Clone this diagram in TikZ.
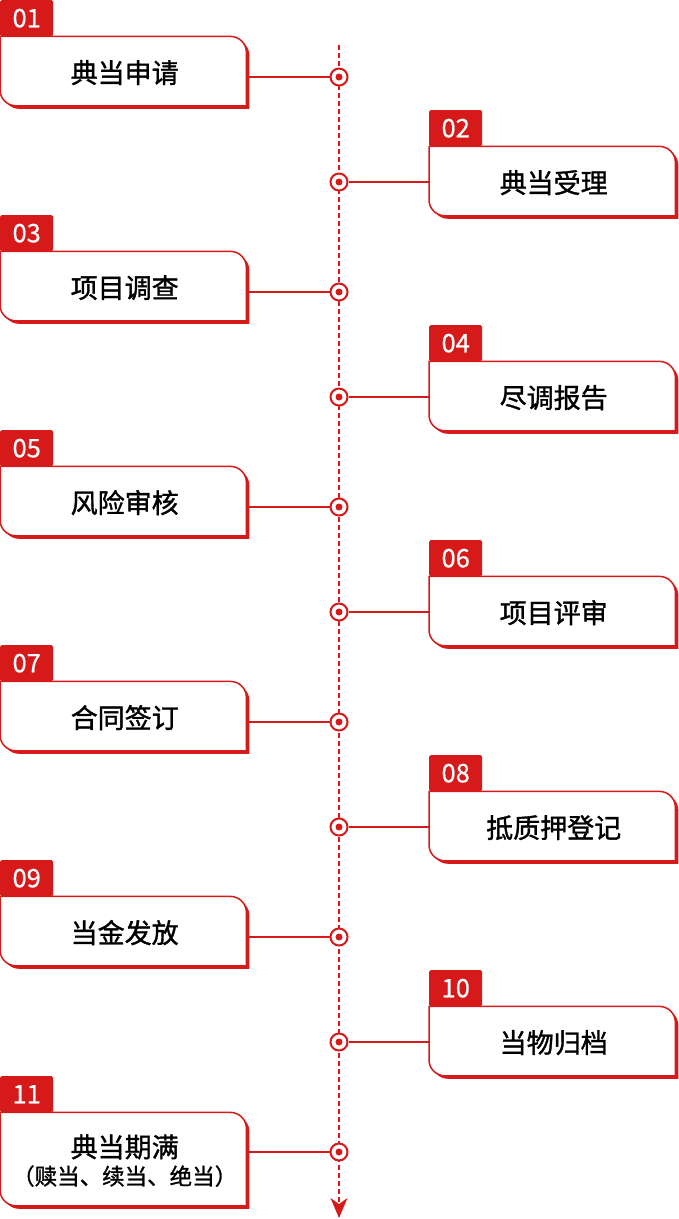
\documentclass[tikz,border=0pt]{standalone}
\usepackage{fontspec}
\newfontfamily\cjk{Noto Sans CJK SC}[FakeBold=0.6]
\newfontfamily\cjkheavy{Noto Sans CJK SC}[FakeBold=1.2]
\usetikzlibrary{positioning,arrows.meta}
\definecolor{mainred}{RGB}{214,26,26}
\pgfdeclarelayer{background}
\pgfsetlayers{background,main}

\begin{document}
\begin{tikzpicture}[x=1pt, y=1pt,
		tag/.style={rectangle, anchor=north west, fill=mainred, text=white, rounded corners=1.5pt, minimum width=53pt, minimum height=36pt, inner sep=0pt, font=\cjk\fontsize{25.5}{27}\selectfont},
		card/.style={rectangle, anchor=north west, minimum width=249pt, minimum height=#1pt, inner sep=0pt, align=center, font=\cjkheavy\fontsize{27}{31}\selectfont},
		card/.default=72,
		shadow/.style={fill=mainred},
		face/.style={fill=white, draw=mainred, line width=1.5pt},
		dot/.style={circle, draw=mainred, line width=2pt, fill=white, minimum size=17pt, inner sep=0pt,
			path picture={\fill[mainred] (path picture bounding box.center) circle (3.5);}},
		link/.style={draw=mainred, line width=1.8pt},
		timeline/.style={draw=mainred, line width=1.5pt, dash pattern=on 5pt off 3pt, -{Stealth[length=20pt, width=17pt, inset=6pt]}}]
	\useasboundingbox (0,0) rectangle (678,-1219);

	% Timeline
	\coordinate (start) at (339,-45);
	\coordinate (end) at (339,-1218);
	\draw[timeline] (start) -- (end);

	% Place nodes
	\node [tag] (tag1) at (0,0) {01};
	\node [card] (box1) at (tag1.south west) {典当申请};
	\node [dot] (dot1) at (339,-77) {};

	\node [tag] (tag2) at (429,-110) {02};
	\node [card] (box2) at (tag2.south west) {典当受理};
	\node [dot] (dot2) at (339,-182) {};

	\node [tag] (tag3) at (0,-215) {03};
	\node [card] (box3) at (tag3.south west) {项目调查};
	\node [dot] (dot3) at (339,-292) {};

	\node [tag] (tag4) at (429,-325) {04};
	\node [card] (box4) at (tag4.south west) {尽调报告};
	\node [dot] (dot4) at (339,-397) {};

	\node [tag] (tag5) at (0,-430) {05};
	\node [card] (box5) at (tag5.south west) {风险审核};
	\node [dot] (dot5) at (339,-507) {};

	\node [tag] (tag6) at (429,-540) {06};
	\node [card] (box6) at (tag6.south west) {项目评审};
	\node [dot] (dot6) at (339,-612) {};

	\node [tag] (tag7) at (0,-645) {07};
	\node [card] (box7) at (tag7.south west) {合同签订};
	\node [dot] (dot7) at (339,-722) {};

	\node [tag] (tag8) at (429,-755) {08};
	\node [card] (box8) at (tag8.south west) {抵质押登记};
	\node [dot] (dot8) at (339,-827) {};

	\node [tag] (tag9) at (0,-860) {09};
	\node [card] (box9) at (tag9.south west) {当金发放};
	\node [dot] (dot9) at (339,-937) {};

	\node [tag] (tag10) at (429,-970) {10};
	\node [card] (box10) at (tag10.south west) {当物归档};
	\node [dot] (dot10) at (339,-1042) {};

	\node [tag] (tag11) at (0,-1076) {11};
	\node [card=96] (box11) at (tag11.south west) {典当期满\\[-3.5pt]{\fontsize{22.5}{26}\selectfont （赎当、续当、绝当）}};
	\node [dot] (dot11) at (339,-1152) {};

	% Card outlines
	\begin{pgfonlayer}{background}
		\foreach \i in {1,...,11}{
			\fill[shadow] ([shift={(3,-3)}]box\i.north west) -- ([shift={(-16,-3)}]box\i.north east) arc[start angle=90, end angle=0, radius=16] -- (box\i.south east) -- ([xshift=19]box\i.south west) arc[start angle=270, end angle=180, radius=16] -- cycle;
			\filldraw[face] (box\i.north west) -- ([xshift=-19]box\i.north east) arc[start angle=90, end angle=0, radius=16] -- ([shift={(-3,3)}]box\i.south east) -- ([shift={(16,3)}]box\i.south west) arc[start angle=270, end angle=180, radius=16] -- cycle;
		}
	\end{pgfonlayer}

	% Connectors
	\draw[link] (box1.east |- dot1) -- (dot1);
	\draw[link] (dot2) -- (box2.west |- dot2);
	\draw[link] (box3.east |- dot3) -- (dot3);
	\draw[link] (dot4) -- (box4.west |- dot4);
	\draw[link] (box5.east |- dot5) -- (dot5);
	\draw[link] (dot6) -- (box6.west |- dot6);
	\draw[link] (box7.east |- dot7) -- (dot7);
	\draw[link] (dot8) -- (box8.west |- dot8);
	\draw[link] (box9.east |- dot9) -- (dot9);
	\draw[link] (dot10) -- (box10.west |- dot10);
	\draw[link] (box11.east |- dot11) -- (dot11);
\end{tikzpicture}
\end{document}
